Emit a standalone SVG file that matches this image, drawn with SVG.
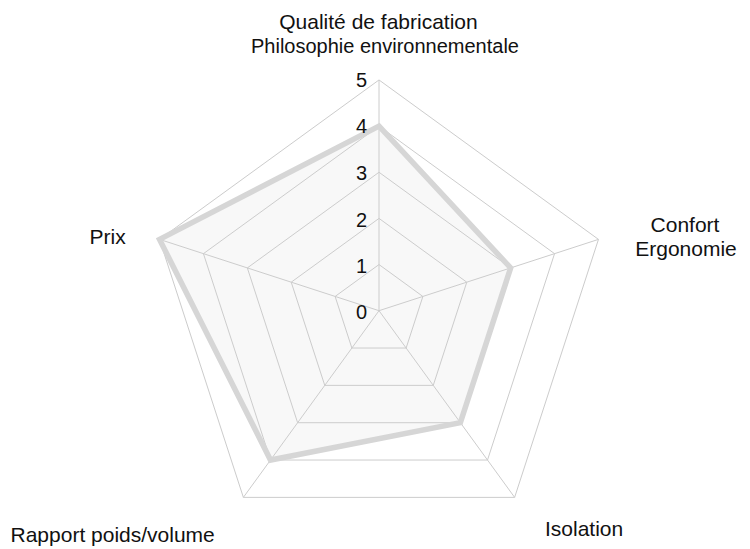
<svg xmlns="http://www.w3.org/2000/svg" width="750" height="549" viewBox="0 0 750 549">
<style>
text{font-family:"Liberation Sans",Arial,Helvetica,sans-serif;fill:#111111;font-size:21px}
.lbl{font-size:21px}
.lbl2{font-size:20px}
.num{font-size:20px;text-anchor:end}
.grid{fill:none;stroke:#cccccc;stroke-width:1}
.data-fill{fill:#f8f8f8;stroke:none}
.data-line{fill:none;stroke:#d6d6d6;stroke-width:5.5;stroke-linejoin:miter}
</style>
<rect width="750" height="549" fill="#ffffff"/>
<g id="data-area">
<polygon class="data-fill" points="379,126.1 510.67,267.92 460.38,422.71 270.49,460.04 159.54,239.39"/>
</g>
<g id="grid" class="grid">
<polygon points="379,264.55 422.89,296.44 406.13,348.04 351.87,348.04 335.11,296.44"/>
<polygon points="379,218.4 466.78,282.18 433.25,385.37 324.75,385.37 291.22,282.18"/>
<polygon points="379,172.25 510.67,267.92 460.38,422.71 297.62,422.71 247.33,267.92"/>
<polygon points="379,126.1 554.56,253.66 487.51,460.04 270.49,460.04 203.44,253.66"/>
<polygon points="379,79.95 598.46,239.39 514.63,497.38 243.37,497.38 159.54,239.39"/>
</g>
<g id="connectors" class="grid">
<line x1="379" y1="310.7" x2="379" y2="79.95"/>
<line x1="379" y1="310.7" x2="598.46" y2="239.39"/>
<line x1="379" y1="310.7" x2="514.63" y2="497.38"/>
<line x1="379" y1="310.7" x2="243.37" y2="497.38"/>
<line x1="379" y1="310.7" x2="159.54" y2="239.39"/>
</g>
<g id="data-line">
<polygon class="data-line" points="379,126.1 510.67,267.92 460.38,422.71 270.49,460.04 159.54,239.39"/>
</g>
<g id="scale">
<text class="num" x="367" y="319">0</text>
<text class="num" x="367" y="273.3">1</text>
<text class="num" x="367" y="226.7">2</text>
<text class="num" x="367" y="179.8">3</text>
<text class="num" x="367" y="133.3">4</text>
<text class="num" x="367" y="87">5</text>
</g>
<g id="node-qualite">
<text class="lbl" x="378.5" y="29" text-anchor="middle">Qualité de fabrication</text>
<text class="lbl2" x="385" y="52.5" text-anchor="middle">Philosophie environnementale</text>
</g>
<g id="node-confort">
<text class="lbl" x="685" y="231.5" text-anchor="middle">Confort</text>
<text class="lbl" x="686" y="256" text-anchor="middle">Ergonomie</text>
</g>
<g id="node-isolation">
<text class="lbl" x="545" y="535.7">Isolation</text>
</g>
<g id="node-rapport">
<text class="lbl" x="10.5" y="541.5">Rapport poids/volume</text>
</g>
<g id="node-prix">
<text class="lbl" x="89.5" y="244">Prix</text>
</g>
</svg>
